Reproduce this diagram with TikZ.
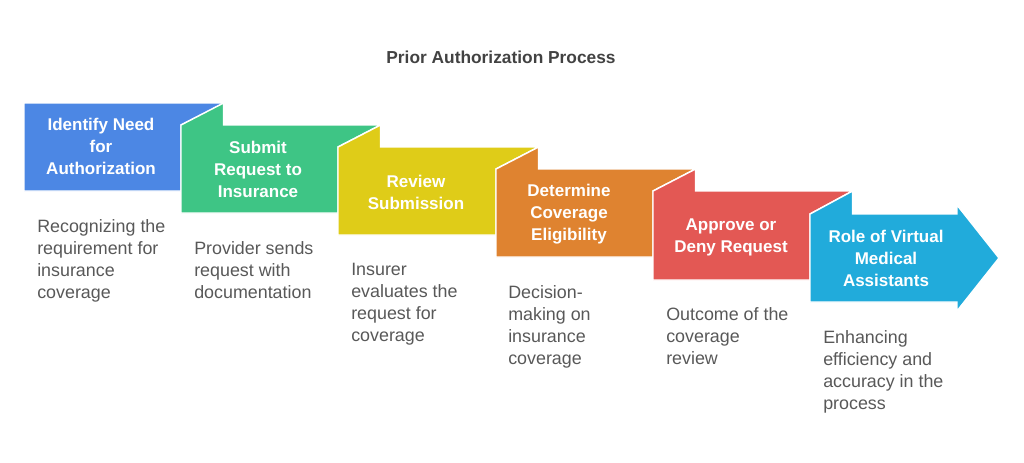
\documentclass[tikz,border=0pt]{standalone}
\usepackage{fontspec}
\setmainfont{Liberation Sans}
\definecolor{cBlue}{RGB}{76,135,228}
\definecolor{cGreen}{RGB}{62,197,133}
\definecolor{cYellow}{RGB}{223,204,24}
\definecolor{cOrange}{RGB}{223,131,48}
\definecolor{cRed}{RGB}{227,88,84}
\definecolor{cCyan}{RGB}{33,171,219}
\definecolor{cDesc}{RGB}{88,88,88}
\definecolor{cTitle}{RGB}{66,66,66}
\begin{document}
\begin{tikzpicture}[x=0.75pt,y=-0.75pt,
  blockshape/.style={draw=white,line width=1.1pt,line join=miter},
  label/.style={text=white,font=\fontsize{12.75}{16.5}\selectfont\bfseries,align=center,inner sep=0pt},
  desc/.style={text=cDesc,font=\fontsize{13.4}{16.6}\selectfont,align=left,inner sep=0pt,anchor=north west},
  titlestyle/.style={text=cTitle,font=\fontsize{13}{16}\selectfont\bfseries,inner sep=0pt}]
\useasboundingbox (0,0) rectangle (1024,462);
% blocks
\fill[cBlue,blockshape] (24,103) -- (224.5,103) -- (181,125) -- (181,191) -- (24,191) -- cycle;
\fill[cGreen,blockshape] (181,125) -- (223.5,103) -- (223.5,125) -- (380.5,125) -- (338,147) -- (338,213) -- (181,213) -- cycle;
\fill[cYellow,blockshape] (338,147) -- (380.5,125) -- (380.5,147) -- (538.5,147) -- (496,169) -- (496,235) -- (338,235) -- cycle;
\fill[cOrange,blockshape] (496,169) -- (538.5,147) -- (538.5,169) -- (695.5,169) -- (653,191) -- (653,257) -- (496,257) -- cycle;
\fill[cRed,blockshape] (653,191) -- (695.5,169) -- (695.5,191) -- (852.5,191) -- (810,214) -- (810,280) -- (653,280) -- cycle;
\fill[cCyan,blockshape] (810,214) -- (852.5,191) -- (852.5,214) -- (957,214) -- (957,205) -- (999,258) -- (957,311) -- (957,302) -- (810,302) -- cycle;
% title
\node[titlestyle] (title) at (501,57) {Prior Authorization Process};
% labels
\node[label] (l1) at (101,146) {Identify Need\\for\\Authorization};
\node[label] (l2) at (258,169) {Submit\\Request to\\Insurance};
\node[label] (l3) at (416,192) {Review\\Submission};
\node[label] (l4) at (569,214) {Determine\\Coverage\\Eligibility};
\node[label] (l5) at (731,237) {Approve or\\Deny Request};
\node[label] (l6) at (886,258) {Role of Virtual\\Medical\\Assistants};
% descriptions
\node[desc] (d1) at (37,219) {Recognizing the\\requirement for\\insurance\\coverage};
\node[desc] (d2) at (194,241) {Provider sends\\request with\\documentation};
\node[desc] (d3) at (351,263) {Insurer\\evaluates the\\request for\\coverage};
\node[desc] (d4) at (508,285) {Decision-\\making on\\insurance\\coverage};
\node[desc] (d5) at (666,307) {Outcome of the\\coverage\\review};
\node[desc] (d6) at (823,330) {Enhancing\\efficiency and\\accuracy in the\\process};
\end{tikzpicture}
\end{document}
